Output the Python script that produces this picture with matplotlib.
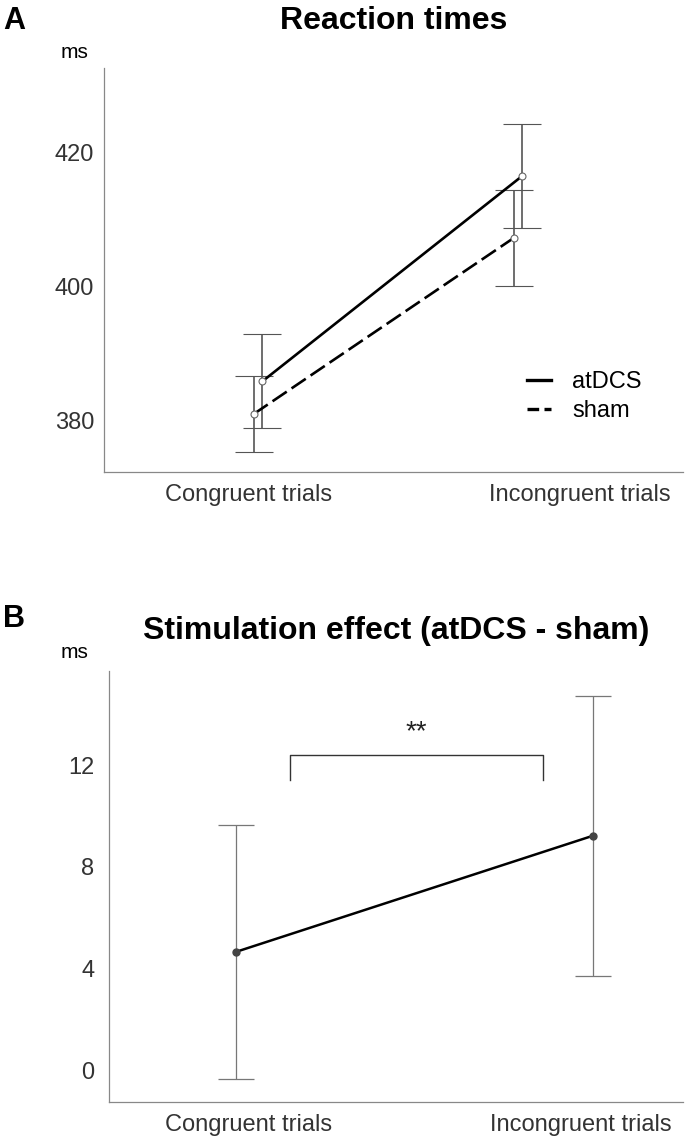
import matplotlib
matplotlib.use("Agg")
from matplotlib import pyplot as plt
from matplotlib.lines import Line2D
import numpy as np

plt.rcParams['font.family'] = ['Liberation Sans', 'DejaVu Sans']

# data
conditions = ['Congruent trials', 'Incongruent trials']
atdcs_rt = [385.9, 416.6]
atdcs_err = [7.0, 7.8]
sham_rt = [381.0, 407.3]
sham_err = [5.7, 7.2]

effect = [4.65, 9.22]
effect_err = [5.0, 5.5]

fig = plt.figure(figsize=(6.85, 11.4), dpi=100)

sham_dash = (0, (6.5, 2.2))

# panel A
axA = fig.add_axes([0.1514, 0.5862, 0.846, 0.3542])
x = np.arange(len(conditions))
dodge = 0.017
axA.errorbar(x + dodge, atdcs_rt, yerr=atdcs_err, color='black', lw=1.9,
             ecolor='#555555', elinewidth=1.2, capsize=13.5, capthick=1.2,
             marker='o', ms=5, mfc='white', mec='#666666', mew=0.8, zorder=3)
axA.errorbar(x - dodge, sham_rt, yerr=sham_err, color='black', lw=1.9,
             ls=sham_dash, ecolor='#555555', elinewidth=1.2,
             capsize=13.5, capthick=1.2, marker='o', ms=5, mfc='white',
             mec='#666666', mew=0.8, zorder=3)
axA.set_xlim(-0.593, 1.635)
axA.set_ylim(372.4, 432.7)
axA.set_yticks([380, 400, 420])
axA.set_xticks([-0.038, 1.238])
axA.set_xticklabels(conditions)
handles = [Line2D([], [], color='black', lw=2.4),
           Line2D([], [], color='black', lw=2.4, ls=(0, (3.5, 1.6)))]
axA.legend(handles, ['atDCS', 'sham'], loc='center left',
           bbox_to_anchor=(0.731, 0.186), frameon=False, fontsize=17,
           handlelength=1.0, handletextpad=0.9, borderpad=0,
           borderaxespad=0, labelspacing=0.3)
axA.set_title('Reaction times', fontsize=23, fontweight='bold', pad=28)

# panel B
axB = fig.add_axes([0.1584, 0.0337, 0.8387, 0.3777])
axB.errorbar(x, effect, yerr=effect_err, color='black', lw=1.8,
             ecolor='#777777', elinewidth=0.9, capsize=13, capthick=0.9,
             marker='o', ms=5, mfc='#444444', mec='#444444', zorder=3)
# significance bracket
bx = [0.151, 0.151, 0.859, 0.859]
by = [11.4, 12.4, 12.4, 11.4]
axB.plot(bx, by, color='#333333', lw=1.0)
axB.text(0.505, 13.3, '**', ha='center', va='center', fontsize=20, color='#222222')
axB.set_xlim(-0.357, 1.252)
axB.set_ylim(-1.24, 15.7)
axB.set_yticks([0, 4, 8, 12])
axB.set_xticks([0.034, 0.966])
axB.set_xticklabels(conditions)
axB.set_title('Stimulation effect (atDCS - sham)', fontsize=23, fontweight='bold', pad=23)

for ax in (axA, axB):
    for s in ('top', 'right'):
        ax.spines[s].set_visible(False)
    for s in ('left', 'bottom'):
        ax.spines[s].set_color('#888888')
        ax.spines[s].set_linewidth(0.9)
    ax.tick_params(length=0, labelsize=17, colors='#333333')
    ax.tick_params(axis='x', pad=9)
axA.tick_params(axis='y', pad=7)
axB.tick_params(axis='y', pad=10)

fig.text(0.005, 0.982, 'A', fontsize=22, fontweight='bold', va='center')
fig.text(0.088, 0.954, 'ms', fontsize=15, va='center', ha='left')
fig.text(0.005, 0.457, 'B', fontsize=22, fontweight='bold', va='center')
fig.text(0.088, 0.428, 'ms', fontsize=15, va='center', ha='left')

fig.savefig('out.png', dpi=100)
